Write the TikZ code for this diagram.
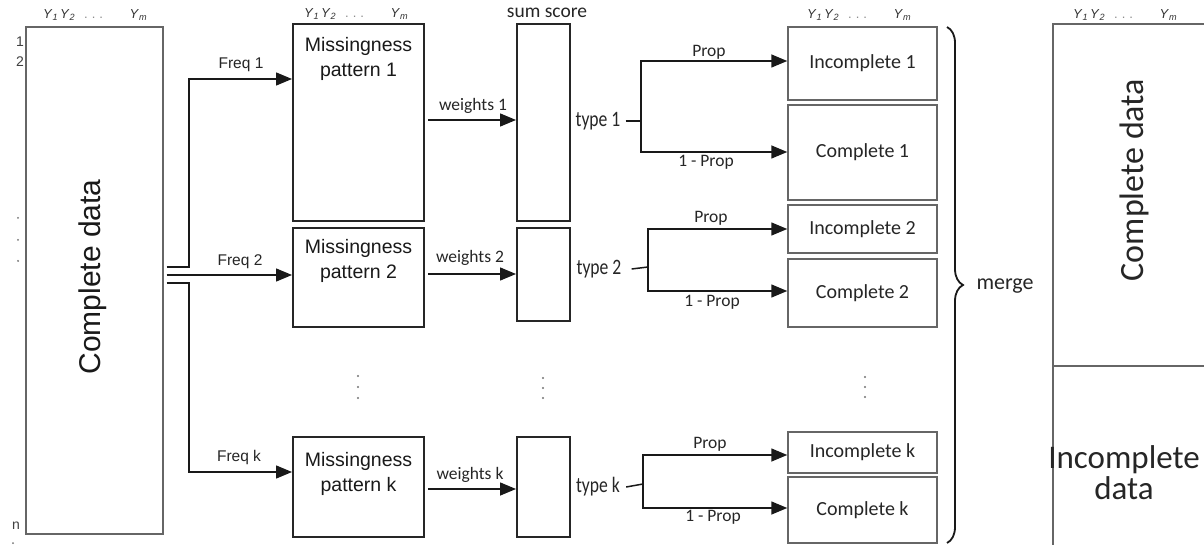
\documentclass[tikz,border=0pt]{standalone}
\usepackage{fontspec}
\setmainfont{Liberation Sans}
\newfontfamily\carl{Carlito}
\newfontfamily\carlc[FakeStretch=0.8]{Carlito}
\usetikzlibrary{arrows.meta,decorations.pathreplacing,calc}
\newcommand\ylab{\fontsize{13}{13}\selectfont\makebox[104pt][l]{\textit{Y}\textsubscript{\textit{1}}\hspace{2pt}\textit{Y}\textsubscript{\textit{2}}\hspace{9pt}\textcolor{black!45}{.\hspace{4pt}.\hspace{4pt}.}\hfill\textit{Y}\textsubscript{\textit{m}}}}
\tikzset{
  lbox/.style={draw=black!60, line width=1.4pt, inner sep=0pt},
  pbox/.style={draw=black!85, line width=2pt, inner sep=0pt, minimum width=131pt},
  sbox/.style={draw=black!85, line width=2pt, inner sep=0pt, minimum width=53pt},
  rbox/.style={draw=black!60, line width=1.5pt, inner sep=0pt, minimum width=149pt, text=black!85, font=\carl\fontsize{20}{20}\selectfont},
  ptext/.style={align=center, text=black!90, inner sep=0pt, font=\fontsize{19.5}{25}\selectfont},
  flab/.style={inner sep=1pt, text=black!85, font=\fontsize{15.5}{16}\selectfont},
  wlab/.style={inner sep=1pt, text=black!85, font=\carl\fontsize{17.5}{18}\selectfont},
  tlab/.style={inner sep=1pt, text=black!85, font=\carlc\fontsize{22}{22}\selectfont},
  ylabel/.style={inner sep=0pt, anchor=west, text=black!80},
  ln/.style={draw=black!90, line width=1.5pt},
  arr/.style={ln, -{Triangle[length=16pt,width=13pt]}},
  mdot/.style={fill=black!55},
}
\begin{document}
\begin{tikzpicture}[x=1pt,y=-1pt]
\clip (0,0) rectangle (1204,545);
\fill[white] (0,0) rectangle (1204,545);

% ---- left: complete data
\node[lbox, minimum width=137pt, minimum height=507pt] (cd) at (94.5,280.5) {};
\node[rotate=90, inner sep=0pt, text=black!90, font=\fontsize{30}{30}\selectfont] (cdt) at (93,277) {Complete data};
\node[ylabel] (y0) at (43,15) {\ylab};
\node[inner sep=0pt, text=black!75, font=\fontsize{14}{14}\selectfont] (r1) at (20,42) {1};
\node[inner sep=0pt, text=black!75, font=\fontsize{14}{14}\selectfont] (r2) at (20,62) {2};
\node[inner sep=0pt, text=black!75, font=\fontsize{14}{14}\selectfont] (rn) at (16,526) {n};
\foreach \yy in {218,240,261} \fill[mdot] (18,\yy) circle (1);
\fill[mdot] (13,543) circle (1);

% ---- missingness patterns
\node[pbox, minimum height=197pt] (mp1) at (358.5,122.5) {};
\node[pbox, minimum height=99pt]  (mp2) at (358.5,277.5) {};
\node[pbox, minimum height=100pt] (mpk) at (358.5,487) {};
\node[ptext] (mp1t) at (358.5,58.5) {Missingness\\pattern 1};
\node[ptext] (mp2t) at (358.5,260.5) {Missingness\\pattern 2};
\node[ptext] (mpkt) at (358.5,473.5) {Missingness\\pattern k};
\node[ylabel] (y1) at (304,14) {\ylab};
\foreach \yy in {376,387,398} \fill[mdot] (358,\yy) circle (1.2);

% ---- freq connectors
\draw[arr, shorten <=3pt] (cd.east |- 0,267) -- (189,267) |- (mp1.west |- 0,79);
\draw[arr, shorten <=3pt] (cd.east |- 0,275) -- (mp2.west |- 0,275);
\draw[arr, shorten <=3pt] (cd.east |- 0,283) -- (189,283) |- (mpk.west |- 0,472);
\node[flab] (f1) at (241,65) {Freq 1};
\node[flab] (f2) at (240,262) {Freq 2};
\node[flab] (fk) at (239,457) {Freq k};

% ---- sum scores
\node[sbox, minimum height=197pt] (ss1) at (543.5,122.5) {};
\node[sbox, minimum height=93pt]  (ss2) at (543.5,274.5) {};
\node[sbox, minimum height=100pt] (ssk) at (543.5,487) {};
\node[inner sep=0pt, text=black!85, font=\carl\fontsize{19.5}{20}\selectfont] (sst) at (547,13) {sum score};
\foreach \yy in {378,388,398} \fill[mdot] (543,\yy) circle (1.2);

\draw[arr, shorten <=3pt] (mp1.east |- 0,120) -- (ss1.west |- 0,120);
\draw[arr, shorten <=3pt] (mp2.east |- 0,274) -- (ss2.west |- 0,274);
\draw[arr, shorten <=3pt] (mpk.east |- 0,489) -- (ssk.west |- 0,489);
\node[wlab] (w1) at (473,106) {weights 1};
\node[wlab] (w2) at (470,258) {weights 2};
\node[wlab] (wk) at (470,475) {weights k};

% ---- incomplete / complete boxes
\node[rbox, minimum height=73pt] (inc1) at (862.5,63.5) {\raisebox{3pt}{Incomplete 1}};
\node[rbox, minimum height=95pt] (com1) at (862.5,152.5) {Complete 1};
\node[rbox, minimum height=48pt] (inc2) at (862.5,229) {Incomplete 2};
\node[rbox, minimum height=68pt] (com2) at (862.5,293) {Complete 2};
\node[rbox, minimum height=41pt] (inck) at (862.5,452.5) {Incomplete k};
\node[rbox, minimum height=66pt] (comk) at (862.5,510) {Complete k};
\node[ylabel] (y2) at (807,15) {\ylab};
\foreach \yy in {377,387,397} \fill[mdot] (865,\yy) circle (1.1);

% ---- types
\node[tlab] (t1) at (598,121) {type 1};
\node[tlab] (t2) at (599,269) {type 2};
\node[tlab] (tk) at (598,487) {type k};
\coordinate (b1) at (641,121);
\coordinate (b2) at (648,267);
\coordinate (bk) at (643,484);
\draw[ln] ([xshift=4pt]t1.east) -- (b1);
\draw[ln] ([xshift=9pt]t2.east) -- (b2);
\draw[ln] ([xshift=5pt]tk.east) -- (bk);
\draw[arr] (b1) |- (inc1.west |- 0,61);
\draw[arr] (b1) |- (com1.west |- 0,152);
\draw[arr] (b2) |- (inc2.west |- 0,229);
\draw[arr] (b2) |- (com2.west |- 0,291);
\draw[arr] (bk) |- (inck.west |- 0,455);
\draw[arr] (bk) |- (comk.west |- 0,508);
\node[wlab] (p1) at (709,52) {Prop};
\node[wlab] (q1) at (706,162) {1 - Prop};
\node[wlab] (p2) at (711,218) {Prop};
\node[wlab] (q2) at (712,302) {1 - Prop};
\node[wlab] (pk) at (710,444) {Prop};
\node[wlab] (qk) at (713,517) {1 - Prop};

% ---- merge brace
\coordinate (brt) at (947,27);
\coordinate (brb) at (947,543);
\draw[line width=1.8pt, black!90, decorate, decoration={brace, amplitude=16pt}] (brt) -- (brb);
\node[inner sep=0pt, text=black!85, font=\carl\fontsize{22}{22}\selectfont] (mg) at (1005,286) {merge};

% ---- final data
\node[lbox, minimum width=162pt, minimum height=342pt] (fc) at (1134,195) {};
\node[lbox, minimum width=162pt, minimum height=194pt] (fi) at (1134,463) {};
\node[ylabel] (y3) at (1073,15) {\ylab};
\node[rotate=90, inner sep=0pt, text=black!85, font=\carl\fontsize{34}{34}\selectfont] (fct) at (1134,180) {Complete data};
\node[inner sep=0pt, text=black!85, font=\carl\fontsize{33}{33}\selectfont] (fit1) at (1124,460) {Incomplete};
\node[inner sep=0pt, text=black!85, font=\carl\fontsize{33}{33}\selectfont, anchor=base] (fit2) at (1124,499) {data};
\end{tikzpicture}
\end{document}
